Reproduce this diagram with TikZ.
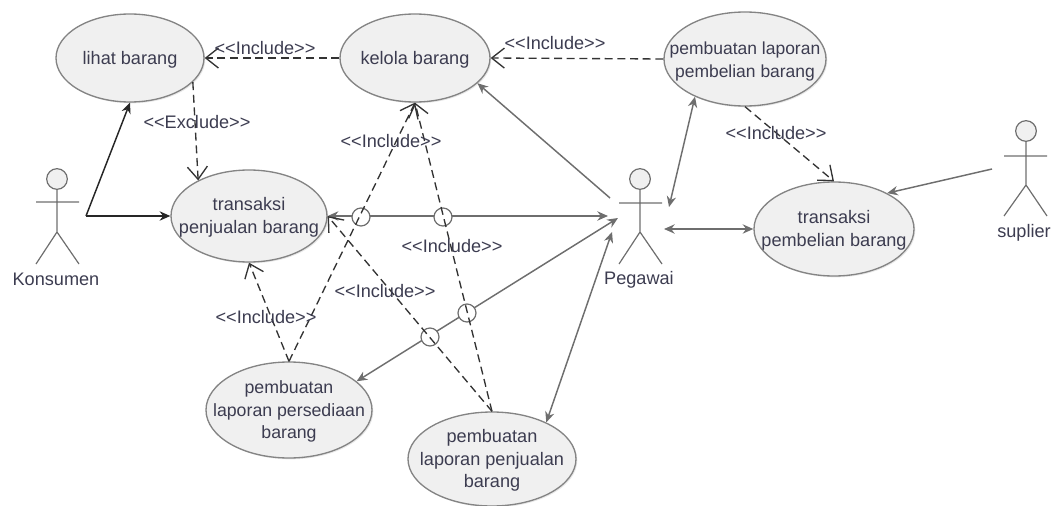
\documentclass[tikz,border=0pt]{standalone}
\usepackage{fontspec}
\setmainfont{Liberation Sans}
\usetikzlibrary{shapes.geometric,arrows.meta,shadows}
\definecolor{edgegray}{HTML}{6E6E6E}
\definecolor{ufill}{HTML}{F0F0F0}
\definecolor{utext}{HTML}{3C3C50}
\newcommand\uctext[1]{\raisebox{-4.9pt}[0pt][0pt]{\makebox[0pt]{\begin{tabular}{@{}c@{}}#1\end{tabular}}}}
\tikzset{
  x=0.75pt,y=-0.75pt,
  usecase/.style 2 args={ellipse,draw=edgegray!85,line width=1pt,fill=ufill,
    drop shadow={shadow xshift=1pt,shadow yshift=-1pt,opacity=.18},
    minimum width=#1*1.5pt,minimum height=#2*1.5pt,inner sep=0pt,
    font=\fontsize{13.6}{17}\selectfont,text=utext},
  lbl/.style={font=\fontsize{13.6}{15}\selectfont,text=utext,inner sep=0pt},
  head/.style={circle,draw=edgegray,fill=ufill,line width=.9pt,minimum size=15.5pt,inner sep=0pt},
  limb/.style={draw=edgegray,line width=.9pt},
  assoc/.style={draw=edgegray,line width=1.1pt},
  black assoc/.style={draw=black!85,line width=1.1pt},
  solidtip/.style={-{Stealth[length=8pt,width=7pt]}},
  bothtips/.style={{Stealth[length=8pt,width=7pt]}-{Stealth[length=8pt,width=7pt]}},
  incl/.style={draw=black!80,line width=1pt,dash pattern=on 6pt off 3.5pt,
    -{Straight Barb[length=9.5pt,width=15pt,line width=1pt]}},
  hop/.style={circle,draw=edgegray,fill=white,line width=.9pt,minimum size=13.5pt,inner sep=0pt},
}
\begin{document}
\begin{tikzpicture}
\useasboundingbox (0,0) rectangle (1056,506);
% use cases
\node[usecase={74}{44}] (lihat) at (130,58) {\uctext{lihat barang}};
\node[usecase={75}{44}] (kelola) at (415,58) {\uctext{kelola barang}};
\node[usecase={81}{47},font=\fontsize{13.1}{17}\selectfont] (lapbeli) at (745,59) {\uctext{pembuatan laporan\\pembelian barang}};
\node[usecase={78}{46}] (trjual) at (249,216) {\uctext{transaksi\\penjualan barang}};
\node[usecase={80}{47}] (trbeli) at (834,229) {\uctext{transaksi\\pembelian barang}};
\node[usecase={83}{48},font=\fontsize{13.3}{17}\selectfont] (lapsedia) at (289,410) {\uctext{pembuatan\\laporan persediaan\\barang}};
\node[usecase={84}{47}] (lapjual) at (492,459) {\uctext{pembuatan\\laporan penjualan\\barang}};
% actors
\node[head] (hk) at (57,179) {};
\coordinate (kh) at (57,232);
\draw[limb] (hk) -- (kh) (36,202) -- (79,202) (36,264) -- (kh) -- (79,264);
\node[lbl] (lk) at (56,279) {Konsumen};
\node[head] (hp) at (640,179) {};
\coordinate (ph) at (640,232);
\draw[limb] (hp) -- (ph) (619,203) -- (662,203) (619,264) -- (ph) -- (662,264);
\node[lbl] (lp) at (639,280) {Pegawai};
\node[head] (hs) at (1026,131) {};
\coordinate (sh) at (1026,185);
\draw[limb] (hs) -- (sh) (1004,156) -- (1047,156) (1004,216) -- (sh) -- (1047,216);
\node[lbl] (ls) at (1024,233) {suplier};
% free ends beside the actors
\coordinate (kc) at (86,216);
\coordinate (pa) at (610,198);
\coordinate (pb) at (608,216);
\coordinate (pc) at (618,218);
\coordinate (pd) at (612,232);
\coordinate (pe) at (669,207);
\coordinate (pf) at (664,229);
\coordinate (sa) at (992,169);
% associations
\draw[black assoc,solidtip] (kc) -- (lihat.south);
\draw[black assoc,solidtip] (kc) -- (trjual.west);
\draw[assoc,solidtip] (pa) -- (kelola.-22);
\draw[assoc,bothtips] (trjual.east) -- (pb);
\draw[assoc,bothtips] (pe) -- (lapbeli.-143);
\draw[assoc,bothtips] (pf) -- (trbeli.west);
\draw[assoc,solidtip] (sa) -- (trbeli.34);
\draw[assoc,bothtips] (pc) -- (lapsedia.23);
\draw[assoc,bothtips] (pd) -- (lapjual.34);
% line hops
\node[hop] (h1) at (361,217) {};
\node[hop] (h2) at (443,217) {};
\node[hop] (h3) at (430,337) {};
\node[hop] (h4) at (467,313) {};
% includes
\draw[incl] (kelola.west) -- (lihat.east);
\draw[incl] (lapbeli.west) -- (kelola.east);
\draw[incl] (lihat.-21) -- (trjual.145);
\draw[incl] (lapbeli.south) -- (trbeli.north);
\draw[incl] (lapsedia.north) -- (kelola.south);
\draw[incl] (lapsedia.north) -- (trjual.south);
\draw[incl] (lapjual.north) -- (kelola.south);
\draw[incl] (lapjual.north) -- (trjual.east);
% labels
\node[lbl] (t1) at (265,48) {<{}<Include>{}>};
\node[lbl] (t2) at (555,43) {<{}<Include>{}>};
\node[lbl] (t3) at (197,122) {<{}<Exclude>{}>};
\node[lbl] (t4) at (776,133) {<{}<Include>{}>};
\node[lbl] (t5) at (391,141) {<{}<Include>{}>};
\node[lbl] (t6) at (452,246) {<{}<Include>{}>};
\node[lbl] (t7) at (385,291) {<{}<Include>{}>};
\node[lbl] (t8) at (266,317) {<{}<Include>{}>};
\end{tikzpicture}
\end{document}
